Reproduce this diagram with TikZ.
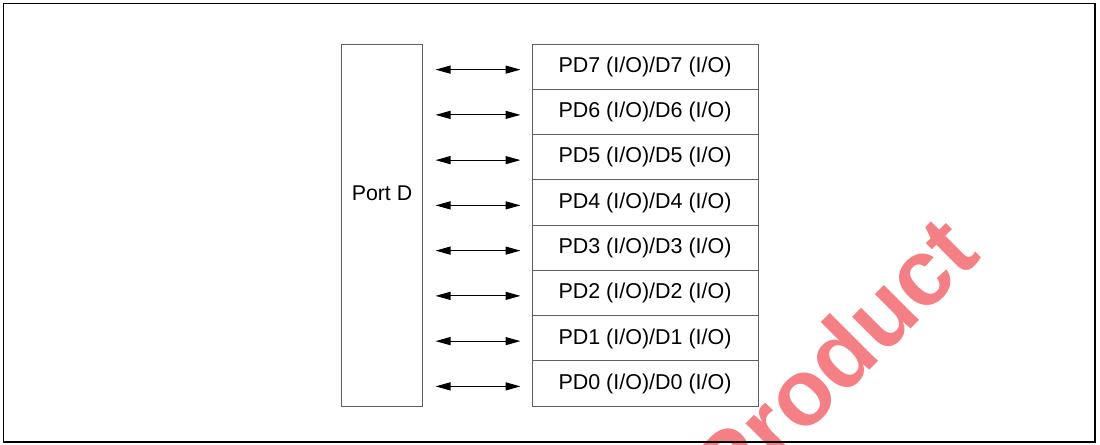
\documentclass[tikz,border=0pt]{standalone}
\usepackage{fontspec}
\setmainfont{Liberation Sans}
\usetikzlibrary{arrows.meta}
\definecolor{boxgray}{RGB}{95,95,95}
\definecolor{wmred}{RGB}{244,128,133}
\begin{document}
\begin{tikzpicture}[x=0.75pt,y=-0.75pt,
  rowbox/.style={draw=boxgray, line width=0.75pt, minimum width=169.5pt, minimum height=33.94pt, inner sep=0pt, text height=1.0em, text depth=0.12em, font=\fontsize{16.1}{19}\selectfont},
  portbox/.style={draw=boxgray, line width=0.75pt, minimum width=60.75pt, minimum height=271.5pt, inner sep=0pt},
  lbl/.style={inner sep=0pt, font=\fontsize{16}{19}\selectfont},
  biarrow/.style={line width=0.9pt, {Triangle[length=11.25pt,width=6pt]}-{Triangle[length=11.25pt,width=6pt]}},
  frame/.style={draw=black, line width=1pt},
  wmark/.style={rotate=45, anchor=base west, text=wmred, inner sep=0pt, font=\bfseries\fontsize{70.5}{80}\selectfont}]
\useasboundingbox (0,0) rectangle (1100,444);
\begin{scope}
  \clip (0,0) rectangle (1100,444);
  \node[wmark] (wm) at (731.7,508.3) {Product};
\end{scope}
\draw[frame] (3.5,3.5) rectangle (1095,442);
\node[portbox] (portD) at (381.5,225) {};
\node[lbl] (portDlabel) at (382,193) {Port D};
\foreach \i [count=\k from 0] in {7,6,5,4,3,2,1,0} {
  \node[rowbox] (r\i) at (645,{44+45.25*(\k+0.5)}) {PD\i{} (I/O)/D\i{} (I/O)};
  \draw[biarrow] ([xshift=9.75pt,yshift=-2.25pt]portD.east |- r\i.west) -- ([xshift=-8.25pt,yshift=-2.25pt]r\i.west);
}
\end{tikzpicture}
\end{document}
